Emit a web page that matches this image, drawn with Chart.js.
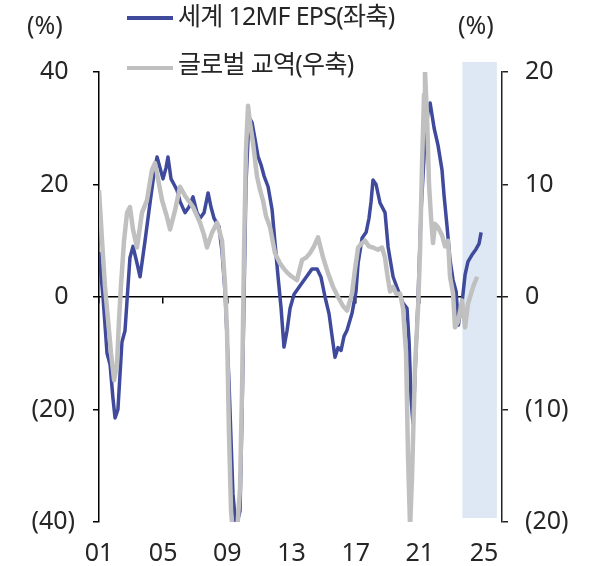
<!DOCTYPE html>
<html>
<head>
<meta charset="utf-8">
<script src="https://cdn.jsdelivr.net/npm/chart.js@4.4.1/dist/chart.umd.min.js"></script>
<style>
  body { margin: 0; background: #fff; }
  #wrap { position: relative; width: 595px; height: 566px; }
  .lbl { position: absolute; font-family: "Noto Sans", "Noto Sans CJK KR", sans-serif; color: #262626; white-space: nowrap; line-height: 1; }
  .unit { font-size: 25px; }
  .leg { font-size: 25px; letter-spacing: -0.7px; }
  .swatch { position: absolute; height: 4px; width: 46px; }
</style>
</head>
<body>
<div id="wrap">
  <canvas id="myChart" width="595" height="566"></canvas>
  <div class="lbl unit" style="left:27px; top:12px;">(%)</div>
  <div class="lbl unit" style="left:458px; top:12px;">(%)</div>
  <div class="swatch" style="left:127px; top:16px; background:#3f4a9c;"></div>
  <div class="lbl leg" style="left:178px; top:3px;">세계 12MF EPS(좌축)</div>
  <div class="swatch" style="left:127px; top:66px; background:#c0c0c0;"></div>
  <div class="lbl leg" style="left:178px; top:51px;">글로벌 교역(우축)</div>
</div>
<script>
// x axis ticks (years) and their labels
const tickYears = [2001, 2005, 2009, 2013, 2017, 2021, 2025];
const tickLabels = ['01', '05', '09', '13', '17', '21', '25'];

// 세계 12MF EPS, YoY % (left axis)
const epsYears = [2001.00, 2001.25, 2001.50, 2001.69, 2001.87, 2002.00, 2002.18, 2002.43, 2002.62, 2002.81,
    2002.93, 2003.12, 2003.37, 2003.56, 2003.87, 2004.18, 2004.43, 2004.62, 2004.80, 2004.99,
    2005.18, 2005.30, 2005.49, 2005.68, 2005.86, 2006.05, 2006.36, 2006.61, 2006.86, 2007.11,
    2007.30, 2007.55, 2007.80, 2007.98, 2008.17, 2008.48, 2008.67, 2008.86, 2009.10, 2009.35,
    2009.54, 2009.79, 2009.92, 2010.04, 2010.16, 2010.35, 2010.54, 2010.73, 2010.91, 2011.10,
    2011.29, 2011.54, 2011.79, 2011.97, 2012.16, 2012.35, 2012.53, 2012.72, 2012.91, 2013.16,
    2013.53, 2013.91, 2014.28, 2014.59, 2014.84, 2015.09, 2015.34, 2015.53, 2015.71, 2015.90,
    2016.09, 2016.27, 2016.46, 2016.77, 2017.02, 2017.15, 2017.40, 2017.65, 2017.83, 2017.96,
    2018.08, 2018.27, 2018.52, 2018.83, 2019.02, 2019.33, 2019.64, 2019.95, 2020.20, 2020.33,
    2020.45, 2020.57, 2020.70, 2020.89, 2021.07, 2021.32, 2021.51, 2021.64, 2021.89, 2022.13,
    2022.38, 2022.51, 2022.70, 2022.88, 2023.07, 2023.26, 2023.40, 2023.51, 2023.63, 2023.82,
    2024.00, 2024.25, 2024.50, 2024.69, 2024.82];
const epsValues = [8, 0, -10, -12, -18, -21.5, -20, -8, -6, 2,
    7, 9, 6, 3.6, 10, 16.7, 22, 24.9, 23, 21,
    23, 24.9, 21, 20, 19, 17, 15, 16, 17.8, 15,
    14, 15, 18.5, 16, 14, 12.5, 8, 0.7, -15, -35,
    -41, -38, -20, 0, 20, 32, 31, 28, 25, 23.5,
    21.5, 19.6, 15.5, 9.6, 3.6, -2, -8.9, -6, -2, 0.5,
    2, 3.5, 5, 5, 3.5, 0, -3, -7, -10.7, -9,
    -9.5, -7, -5.9, -2.9, 1, 6, 10.5, 11.5, 14, 17,
    20.8, 20, 16.7, 15, 8.9, 3.6, 1.2, -1.1, -2, -8,
    -18, -22.4, -14, 0, 15, 28, 33, 34.5, 30, 27,
    22.6, 18, 12.4, 6.6, 3, 1, -5, -3, -1, 4,
    6.3, 7.5, 8.5, 9.5, 11.5];

// 글로벌 교역, YoY % (right axis)
const tradeYears = [2001.00, 2001.19, 2001.37, 2001.56, 2001.75, 2001.94, 2002.12, 2002.25, 2002.37, 2002.56,
    2002.75, 2002.93, 2003.12, 2003.37, 2003.68, 2003.99, 2004.30, 2004.49, 2004.68, 2004.93,
    2005.24, 2005.43, 2005.74, 2006.05, 2006.36, 2006.61, 2006.86, 2007.30, 2007.55, 2007.73,
    2008.04, 2008.36, 2008.67, 2008.86, 2008.98, 2009.10, 2009.23, 2009.35, 2009.60, 2009.79,
    2009.92, 2010.04, 2010.16, 2010.29, 2010.41, 2010.60, 2010.85, 2011.04, 2011.22, 2011.41,
    2011.66, 2011.97, 2012.28, 2012.53, 2012.78, 2013.03, 2013.34, 2013.66, 2013.91, 2014.15,
    2014.40, 2014.65, 2014.97, 2015.28, 2015.59, 2015.90, 2016.21, 2016.46, 2016.65, 2016.77,
    2016.96, 2017.15, 2017.40, 2017.58, 2017.83, 2018.08, 2018.39, 2018.64, 2018.83, 2018.96,
    2019.14, 2019.33, 2019.52, 2019.77, 2019.95, 2020.14, 2020.26, 2020.39, 2020.51, 2020.70,
    2020.89, 2021.01, 2021.14, 2021.26, 2021.32, 2021.45, 2021.57, 2021.70, 2021.82, 2021.95,
    2022.13, 2022.38, 2022.57, 2022.76, 2022.88, 2023.07, 2023.19, 2023.38, 2023.63, 2023.82,
    2024.00, 2024.32, 2024.57];
const tradeValues = [9.5, 5, 1, -2, -5, -7.4, -6, -2, 1, 5,
    7.5, 8, 6, 4.4, 7.5, 8.6, 11.3, 11.9, 10.5, 8.6,
    7.1, 6, 7.7, 9.8, 9, 8.5, 8, 6.6, 5.5, 4.4,
    5.7, 6.6, 5, 1, -3, -12, -19, -21, -21, -17,
    -8, 4, 13, 17, 15.5, 13.7, 10.7, 9.5, 8.6, 7.2,
    6.2, 3.9, 3, 2.5, 2.1, 1.8, 1.5, 3.3, 3.5, 3.9,
    4.5, 5.3, 3.5, 2.1, 0.9, 0, -0.8, -1.2, -0.3, 0.3,
    2.5, 4.4, 4.8, 5, 4.5, 4.4, 4.2, 4.4, 3.5, 2.1,
    0.5, 0.9, 0.3, 0.3, -1, -5, -14, -20.5, -16, -6,
    -1, 4, 12, 18, 20, 16, 10, 7, 4.8, 6.5,
    6.2, 5.5, 4.5, 5, 1.8, 0.3, -2.7, -2.2, -0.3, -2.7,
    -0.6, 0.9, 1.8];

// highlighted period
const shadeFrom = 2023.65;
const shadeTo = 2025.8;

const AXIS_FONT = { family: '"Noto Sans", "Noto Sans CJK KR", sans-serif', size: 25 };

function toPoints(xs, ys) {
    return xs.map((x, i) => ({ x: x, y: ys[i] }));
}

function paren(v) {
    return v < 0 ? '(' + Math.abs(v) + ')' : String(v);
}

const shadePlugin = {
    id: 'shade',
    beforeDatasetsDraw(chart) {
        const x = chart.scales.x;
        const y = chart.scales.y;
        const ctx = chart.ctx;
        const left = x.getPixelForValue(shadeFrom);
        const right = x.getPixelForValue(shadeTo);
        const top = y.getPixelForValue(41.8);
        const bottom = y.getPixelForValue(-39.3);
        ctx.save();
        ctx.fillStyle = '#dde8f4';
        ctx.fillRect(left, top, right - left, bottom - top);
        ctx.restore();
    }
};

const ctx = document.getElementById('myChart').getContext('2d');
window.myChart = new Chart(ctx, {
    type: 'line',
    data: {
        datasets: [{
            label: '세계 12MF EPS(좌축)',
            data: toPoints(epsYears, epsValues),
            yAxisID: 'y',
            borderColor: '#3f4a9c',
            borderWidth: 3.5,
            pointRadius: 0,
            tension: 0,
            borderJoinStyle: 'round',
            order: 2
        }, {
            label: '글로벌 교역(우축)',
            data: toPoints(tradeYears, tradeValues),
            yAxisID: 'y1',
            borderColor: '#c0c0c0',
            borderWidth: 4.5,
            pointRadius: 0,
            tension: 0,
            borderJoinStyle: 'round',
            order: 1
        }]
    },
    options: {
        responsive: false,
        animation: false,
        events: [],
        layout: { padding: { top: 72, left: 0, right: 0, bottom: 0 } },
        plugins: {
            legend: { display: false },
            tooltip: { enabled: false }
        },
        scales: {
            x: {
                type: 'linear',
                min: 2001,
                max: 2026.12,
                afterBuildTicks: s => { s.ticks = tickYears.map(v => ({ value: v })); },
                afterFit: s => { s.height = 44; },
                grid: { display: false },
                border: { display: false },
                ticks: {
                    font: AXIS_FONT,
                    color: '#262626',
                    padding: 9,
                    maxRotation: 0,
                    autoSkip: false,
                    callback: (v, i) => tickLabels[i]
                }
            },
            // horizontal line at zero with the year tick marks
            xZero: {
                type: 'linear',
                position: { y: 0 },
                min: 2001,
                max: 2026.12,
                afterBuildTicks: s => { s.ticks = tickYears.map(v => ({ value: v })); },
                grid: { drawOnChartArea: false, drawTicks: true, tickLength: 6, color: '#000', lineWidth: 1.5 },
                border: { display: true, color: '#000', width: 1.5 },
                ticks: { display: false }
            },
            y: {
                position: 'left',
                min: -40,
                max: 40,
                afterBuildTicks: s => { s.ticks = [40, 20, 0, -20, -40].map(v => ({ value: v })); },
                afterFit: s => { s.width = 99; },
                grid: { drawOnChartArea: false, tickLength: 6, color: '#000', lineWidth: 1.5 },
                border: { color: '#000', width: 1.5 },
                ticks: {
                    font: AXIS_FONT,
                    color: '#262626',
                    padding: 18,
                    callback: v => v < 0 ? paren(v) : v + ' '
                }
            },
            y1: {
                position: 'right',
                min: -20,
                max: 20,
                afterBuildTicks: s => { s.ticks = [20, 10, 0, -10, -20].map(v => ({ value: v })); },
                afterFit: s => { s.width = 93; },
                grid: { drawOnChartArea: false, tickLength: 6, color: '#222', lineWidth: 1.5 },
                border: { color: '#222', width: 1.5 },
                ticks: {
                    font: AXIS_FONT,
                    color: '#262626',
                    padding: 17,
                    callback: v => paren(v)
                }
            }
        }
    },
    plugins: [shadePlugin]
});
</script>
</body>
</html>
